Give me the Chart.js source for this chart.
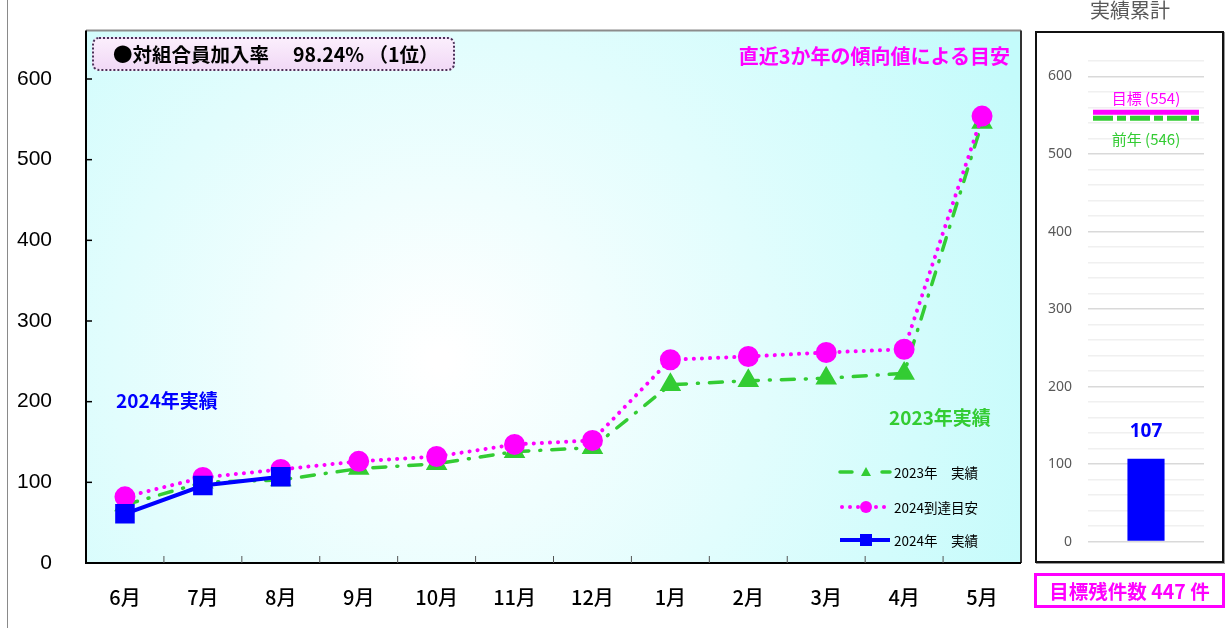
<!DOCTYPE html>
<html>
<head>
<meta charset="utf-8">
<script src="https://cdn.jsdelivr.net/npm/chart.js@4.4.1/dist/chart.umd.min.js"></script>
<style>
  body { margin: 0; background: #fff; width: 1226px; height: 628px; overflow: hidden; position: relative;
         font-family: "Liberation Sans", "Noto Sans CJK JP", sans-serif; }
  .abs { position: absolute; }
  #mainWrap { left: 0; top: -8px; width: 1036px; height: 636px; }
  #sideWrap { left: 1036px; top: 32px; width: 186px; height: 534px; }
  #leftLine { left: 7px; top: 0; width: 1px; height: 628px; background: #8a8a8a; }
  #rateBox { left: 92px; top: 37px; width: 340px; height: 30px; border: 2px dotted #4a3158; border-radius: 7px;
             background: linear-gradient(#fbeefc, #f1d9f6); font: bold 19.5px "Noto Sans CJK JP", sans-serif;
             line-height: 30px; padding-left: 19px; box-sizing: content-box; white-space: pre; }
  .note { font-family: "Noto Sans CJK JP", sans-serif; font-weight: bold; white-space: nowrap; }
  #trend { right: 216px; top: 41px; font-size: 20px; color: #ff00ff; }
  #lab24 { left: 116px; top: 386px; font-size: 19px; color: #0000ff; }
  #lab23 { left: 889px; top: 403px; font-size: 19px; color: #33cc33; }
  .leg { left: 838px; width: 200px; height: 20px; font: 13.5px "Noto Sans CJK JP", sans-serif; white-space: pre; }
  .leg svg { position: absolute; left: 0; top: 0; }
  .leg span { position: absolute; left: 56px; top: 0; line-height: 20px; }
  #sideBox { left: 1035px; top: 31px; width: 185px; height: 528px; border: 2px solid #111; box-shadow: 1px 1px 0 #999; }
  #sideTitle { left: 1036px; width: 188px; top: -5px; text-align: center; font: 20px "Noto Sans CJK JP", sans-serif; color: #595959; }
  #remain { left: 1034px; top: 573px; width: 185px; height: 29px; border: 3px solid #ff00ff; text-align: center;
            font: bold 19.5px "Noto Sans CJK JP", sans-serif; color: #ff00ff; line-height: 29px; }
</style>
</head>
<body>
<div id="leftLine" class="abs"></div>
<div id="mainWrap" class="abs"><canvas id="mainChart"></canvas></div>
<div id="sideBox" class="abs"></div>
<div id="sideWrap" class="abs"><canvas id="sideChart"></canvas></div>
<div id="sideTitle" class="abs">実績累計</div>
<div id="rateBox" class="abs">●対組合員加入率　 98.24% （1位）</div>
<div id="trend" class="abs note">直近3か年の傾向値による目安</div>
<div id="lab24" class="abs note">2024年実績</div>
<div id="lab23" class="abs note">2023年実績</div>
<div class="abs leg" style="top:462px">
  <svg width="56" height="20"><line x1="2" y1="10" x2="14" y2="10" stroke="#33cc33" stroke-width="3.5" stroke-linecap="round"/>
  <polygon points="28,5 33,14 23,14" fill="#33cc33"/><line x1="44" y1="10" x2="52" y2="10" stroke="#33cc33" stroke-width="3.5" stroke-linecap="round"/></svg>
  <span>2023年　実績</span></div>
<div class="abs leg" style="top:497px">
  <svg width="56" height="20"><g fill="#ff00ff"><circle cx="4" cy="10" r="2"/><circle cx="12" cy="10" r="2"/><circle cx="20" cy="10" r="2"/>
  <circle cx="28" cy="10" r="6"/><circle cx="38" cy="10" r="2"/><circle cx="46" cy="10" r="2"/></g></svg>
  <span>2024到達目安</span></div>
<div class="abs leg" style="top:530px">
  <svg width="56" height="20"><line x1="2" y1="10" x2="52" y2="10" stroke="#0000ff" stroke-width="4"/>
  <rect x="22" y="4" width="12" height="12" fill="#0000ff"/></svg>
  <span>2024年　実績</span></div>
<div id="remain" class="abs">目標残件数 447 件</div>

<script>
// categories and series
const months = ['6月', '7月', '8月', '9月', '10月', '11月', '12月', '1月', '2月', '3月', '4月', '5月'];
const actual2023 = [72, 100, 103, 117, 123, 138, 143, 221, 226, 229, 235, 546];
const target2024 = [82, 106, 116, 126, 132, 147, 152, 252, 256, 261, 265, 554];
const actual2024 = [61, 96, 107];
const yTicks = [0, 100, 200, 300, 400, 500, 600];

// right-hand panel
const cumLabel = ['累計'];
const cumActual = [107];
const goalValue = 554;
const lastYearValue = 546;

const frameAndBg = {
    id: 'frameAndBg',
    beforeDatasetsDraw(chart) {
        const { ctx, chartArea: a, scales } = chart;
        ctx.save();
        const g = ctx.createRadialGradient(440, 368, 10, 440, 368, 640);
        g.addColorStop(0, '#ffffff');
        g.addColorStop(1, '#c4fbfb');
        ctx.fillStyle = g;
        ctx.fillRect(a.left, a.top, a.right - a.left, a.bottom - a.top);
        ctx.strokeStyle = '#8c8c8c';
        ctx.lineWidth = 2;
        ctx.beginPath();
        ctx.moveTo(a.left, a.top); ctx.lineTo(a.right, a.top);
        ctx.stroke();
        ctx.strokeStyle = '#333';
        ctx.beginPath();
        ctx.moveTo(a.right, a.top); ctx.lineTo(a.right, a.bottom);
        ctx.stroke();
        ctx.strokeStyle = '#000';
        ctx.beginPath();
        ctx.moveTo(a.left, a.top); ctx.lineTo(a.left, a.bottom); ctx.lineTo(a.right, a.bottom);
        ctx.stroke();
        // inward tick marks
        ctx.lineWidth = 1.5;
        yTicks.forEach(v => {
            const y = scales.y.getPixelForValue(v);
            ctx.beginPath(); ctx.moveTo(a.left, y); ctx.lineTo(a.left + 6, y); ctx.stroke();
        });
        ctx.strokeStyle = '#555';
        ctx.lineWidth = 1;
        for (let i = 1; i < months.length; i++) {
            const x = (scales.x.getPixelForValue(i - 1) + scales.x.getPixelForValue(i)) / 2;
            ctx.beginPath(); ctx.moveTo(x, a.bottom); ctx.lineTo(x, a.bottom - 7); ctx.stroke();
        }
        ctx.restore();
    }
};

new Chart(document.getElementById('mainChart'), {
    type: 'line',
    data: {
        labels: months,
        datasets: [
            {
                label: '2023年　実績', data: actual2023, order: 3,
                borderColor: '#33cc33', backgroundColor: '#33cc33', borderWidth: 3.5,
                borderDash: [13, 11, 1, 11], borderCapStyle: 'round',
                pointStyle: 'triangle', pointRadius: 9, tension: 0
            },
            {
                label: '2024到達目安', data: target2024, order: 2,
                borderColor: '#ff00ff', backgroundColor: '#ff00ff', borderWidth: 4,
                borderDash: [0.1, 8], borderCapStyle: 'round',
                pointStyle: 'circle', pointRadius: 8.5, tension: 0
            },
            {
                label: '2024年　実績', data: actual2024, order: 1,
                borderColor: '#0000ff', backgroundColor: '#0000ff', borderWidth: 4,
                pointStyle: 'rect', pointRadius: 11, tension: 0
            }
        ]
    },
    options: {
        responsive: true,
        maintainAspectRatio: false,
        animation: false,
        devicePixelRatio: 1,
        layout: { padding: { top: 24, right: 7, left: 0, bottom: 0 } },
        plugins: { legend: { display: false }, tooltip: { enabled: false } },
        scales: {
            x: {
                offset: true,
                grid: { display: false },
                border: { display: false },
                ticks: { color: '#000', padding: 14, font: { size: 20, family: '"Noto Sans CJK JP", sans-serif', weight: '500' } },
                afterFit: function (scale) { scale.height = 65; }
            },
            y: {
                min: 0,
                max: 660,
                grid: { display: false },
                border: { display: false },
                ticks: { stepSize: 100, color: '#000', padding: 26, font: { size: 21, family: '"Liberation Sans", Arial, sans-serif' } },
                afterBuildTicks: function (scale) {
                    scale.ticks = yTicks.map(v => ({ value: v }));
                },
                afterFit: function (scale) { scale.width = 86; }
            }
        }
    },
    plugins: [frameAndBg]
});

const goalLines = {
    id: 'goalLines',
    afterDatasetsDraw(chart) {
        const { ctx, scales } = chart;
        const x0 = chart.chartArea.left + 5, x1 = chart.chartArea.right - 5;
        const cx = (chart.chartArea.left + chart.chartArea.right) / 2;
        ctx.save();
        let y = scales.y.getPixelForValue(goalValue);
        ctx.strokeStyle = '#ff00ff'; ctx.lineWidth = 5;
        ctx.beginPath(); ctx.moveTo(x0, y); ctx.lineTo(x1, y); ctx.stroke();
        ctx.fillStyle = '#ff00ff';
        ctx.font = '15px "Noto Sans CJK JP", sans-serif';
        ctx.textAlign = 'center'; ctx.textBaseline = 'middle';
        ctx.fillText('目標 (' + goalValue + ')', cx, y - 14);
        y = scales.y.getPixelForValue(lastYearValue);
        ctx.strokeStyle = '#33cc33'; ctx.setLineDash([20, 4, 9, 4]);
        ctx.beginPath(); ctx.moveTo(x0, y); ctx.lineTo(x1, y); ctx.stroke();
        ctx.setLineDash([]);
        ctx.fillStyle = '#33cc33';
        ctx.fillText('前年 (' + lastYearValue + ')', cx, y + 21);
        // bar value label
        const bar = chart.getDatasetMeta(0).data[0];
        ctx.fillStyle = '#0000ff';
        ctx.font = 'bold 19px "Open Sans", "Noto Sans", sans-serif';
        ctx.fillText(String(cumActual[0]), bar.x, bar.y - 27);
        ctx.restore();
    }
};

new Chart(document.getElementById('sideChart'), {
    type: 'bar',
    data: {
        labels: cumLabel,
        datasets: [{ data: cumActual, backgroundColor: '#0000ff', barPercentage: 0.32, categoryPercentage: 1 }]
    },
    options: {
        responsive: true,
        maintainAspectRatio: false,
        animation: false,
        devicePixelRatio: 1,
        layout: { padding: { top: 29, right: 18, left: 0, bottom: 0 } },
        plugins: { legend: { display: false }, tooltip: { enabled: false } },
        scales: {
            x: {
                grid: { display: false },
                border: { display: false },
                ticks: { display: false },
                afterFit: function (scale) { scale.height = 9; }
            },
            y: {
                min: 0,
                max: 620,
                border: { display: false },
                grid: {
                    drawTicks: false,
                    lineWidth: 1.5,
                    color: function (c) { return c.tick && c.tick.value % 100 === 0 ? '#d9d9d9' : '#f0f0f0'; }
                },
                ticks: {
                    stepSize: 20, maxTicksLimit: 100, autoSkip: false, padding: 16, color: '#595959',
                    font: { size: 14, family: '"Noto Sans", sans-serif' },
                    callback: function (v) { return v % 100 === 0 ? v : ''; }
                },
                afterFit: function (scale) { scale.width = 52; }
            }
        }
    },
    plugins: [goalLines]
});
</script>
</body>
</html>
